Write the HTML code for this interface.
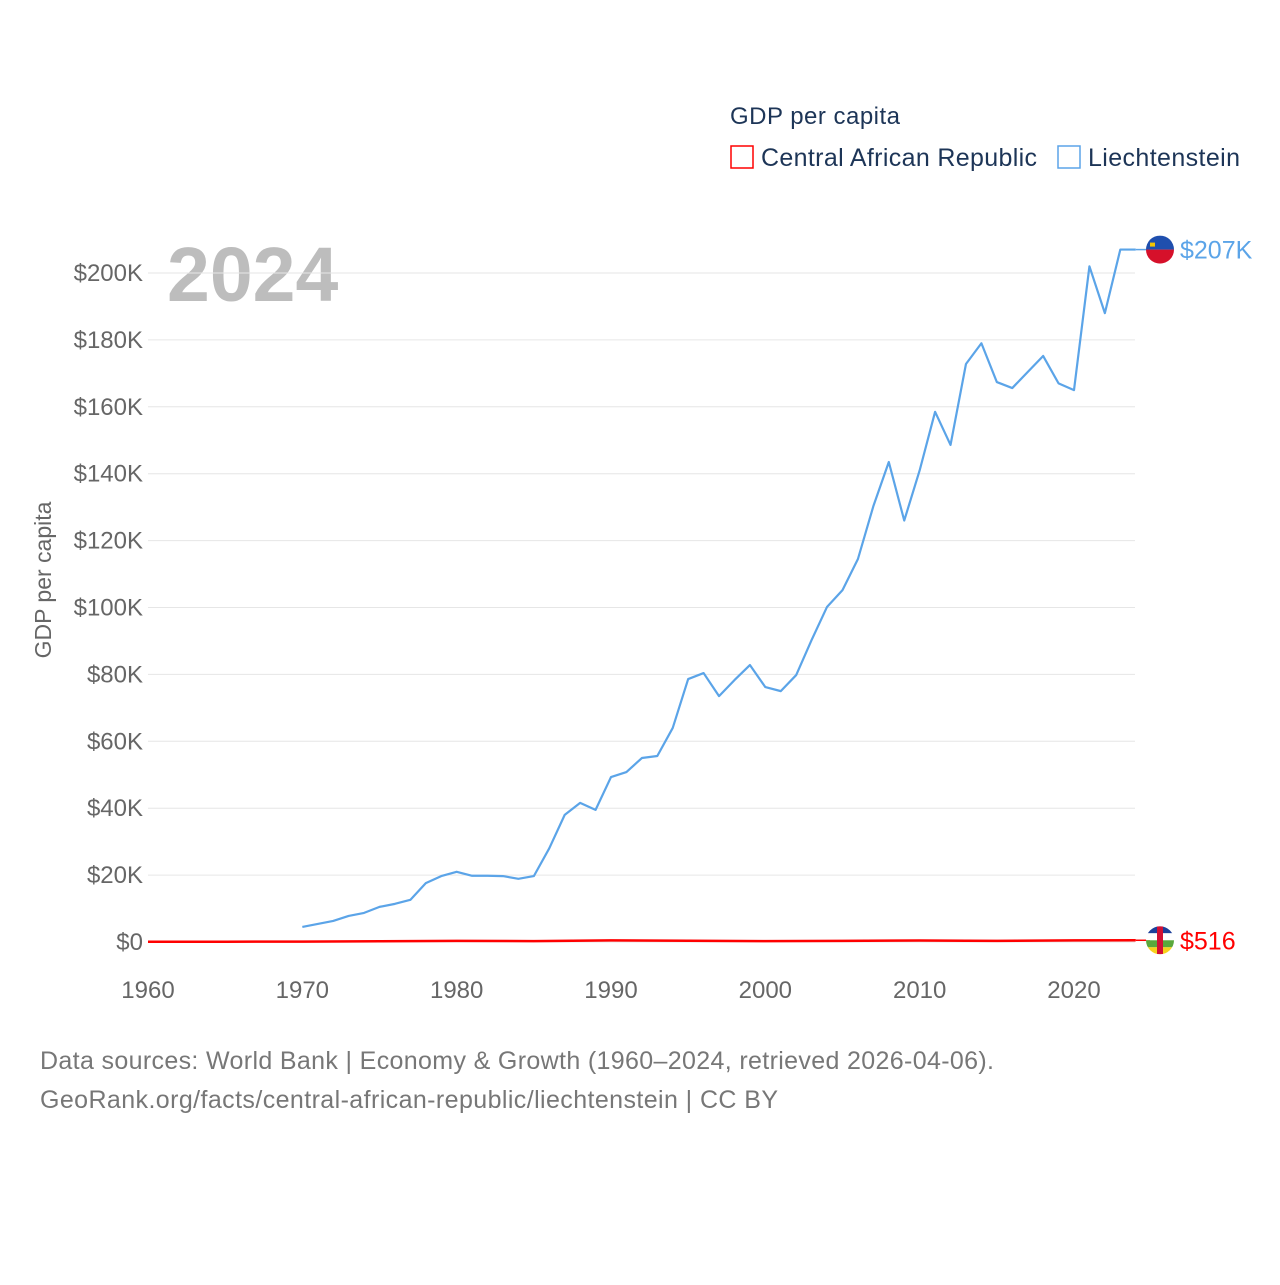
<!DOCTYPE html>
<html><head><meta charset="utf-8"><style>
body{margin:0;background:#fff;font-family:"Liberation Sans",sans-serif;}
svg text{font-family:"Liberation Sans",sans-serif;}
</style></head><body>
<svg width="1280" height="1280" viewBox="0 0 1280 1280">
<text x="730" y="124" font-size="24" fill="#1d3557" textLength="170">GDP per capita</text>
<g><rect x="731" y="146" width="22" height="22" fill="none" stroke="#ff0000" stroke-width="1.5"/><text x="761" y="166" font-size="25" fill="#1d3557" textLength="276">Central African Republic</text></g>
<g><rect x="1058" y="146" width="22" height="22" fill="none" stroke="#5ba4e8" stroke-width="1.5"/><text x="1088" y="166" font-size="25" fill="#1d3557" textLength="152">Liechtenstein</text></g>
<text x="167" y="301" font-size="77" font-weight="bold" fill="#bdbdbd">2024</text>
<text transform="translate(51,580) rotate(-90)" text-anchor="middle" font-size="23" fill="#666">GDP per capita</text>
<g id="grid"></g><g id="yt"></g><g id="xt"></g><g id="lines"></g><g id="ends"></g>
<text x="40" y="1069" font-size="25" fill="#777" textLength="954">Data sources: World Bank | Economy &amp; Growth (1960–2024, retrieved 2026-04-06).</text>
<text x="40" y="1108" font-size="25" fill="#777" textLength="738">GeoRank.org/facts/central-african-republic/liechtenstein | CC BY</text>
</svg>
<script>
const yTicks=[0,20000,40000,60000,80000,100000,120000,140000,160000,180000,200000];
const yTickLabels=["$0","$20K","$40K","$60K","$80K","$100K","$120K","$140K","$160K","$180K","$200K"];
const xTicks=[1960,1970,1980,1990,2000,2010,2020];
const liYears=[1970,1971,1972,1973,1974,1975,1976,1977,1978,1979,1980,1981,1982,1983,1984,1985,1986,1987,1988,1989,1990,1991,1992,1993,1994,1995,1996,1997,1998,1999,2000,2001,2002,2003,2004,2005,2006,2007,2008,2009,2010,2011,2012,2013,2014,2015,2016,2017,2018,2019,2020,2021,2022,2023,2024];
const liValues=[4500,5400,6300,7800,8700,10500,11400,12600,17600,19700,21000,19800,19800,19700,18900,19700,28000,38000,41600,39500,49300,50800,55000,55600,64000,78600,80400,73500,78300,82800,76200,75000,79800,90300,100200,105200,114500,130300,143500,126000,141000,158500,148600,172800,179000,167400,165600,170400,175200,167000,165000,202000,188000,207000,207000];
const carYears=[1960,1965,1970,1975,1980,1985,1990,1995,2000,2005,2010,2013,2015,2020,2024];
const carValues=[70,90,110,230,350,280,500,380,250,340,460,380,350,480,516];
const NS="http://www.w3.org/2000/svg";
const xS=y=>148+(y-1960)*(1074-148)/60;
const yS=v=>942-v*(942-273)/200000;
function mk(tag,attrs,parent,txt){const e=document.createElementNS(NS,tag);for(const k in attrs)e.setAttribute(k,attrs[k]);if(txt!=null)e.textContent=txt;document.getElementById(parent).appendChild(e);return e;}
yTicks.forEach((t,i)=>{
 const g=mk('line',{x1:148,x2:1135,y1:yS(t),y2:yS(t),stroke:'#e6e6e6','stroke-width':1},'grid');
 
 
 const l=mk('text',{x:143,y:yS(t)+8,'text-anchor':'end','font-size':24,fill:'#666'},'yt',yTickLabels[i]);
 
 
});
xTicks.forEach(t=>{
 const l=mk('text',{x:xS(t),y:998,'text-anchor':'middle','font-size':24,fill:'#666'},'xt',t);
 
 
});
const pts=(xs,vs)=>xs.map((y,i)=>xS(y)+','+yS(vs[i])).join(' ');
const li=mk('polyline',{points:pts(liYears,liValues),fill:'none',stroke:'#5ba4e8','stroke-width':2.2,'stroke-linejoin':'round'},'lines');


const car=mk('polyline',{points:pts(carYears,carValues),fill:'none',stroke:'#ff0000','stroke-width':2.5},'lines');


const liEnd=liValues[liValues.length-1], carEnd=carValues[carValues.length-1];
const ly=yS(liEnd), cy=yS(carEnd);
mk('line',{x1:xS(2024),x2:1150,y1:ly,y2:ly,stroke:'#5ba4e8','stroke-width':1.5},'ends');
mk('line',{x1:xS(2024),x2:1150,y1:cy,y2:cy,stroke:'#ff0000','stroke-width':1.5},'ends');
const f1=mk('g',{},'ends');


f1.innerHTML=`<clipPath id="c1"><circle cx="1160" cy="${ly}" r="14"/></clipPath><g clip-path="url(#c1)"><rect x="1146" y="${ly-14}" width="28" height="14" fill="#1f4fae"/><rect x="1146" y="${ly}" width="28" height="14" fill="#d6102a"/><rect x="1150" y="${ly-7}" width="5" height="4" fill="#f5c400"/></g>`;
const f2=mk('g',{},'ends');


f2.innerHTML=`<clipPath id="c2"><circle cx="1160" cy="${cy}" r="14"/></clipPath><g clip-path="url(#c2)"><rect x="1146" y="${cy-14}" width="28" height="7" fill="#1d3f9a"/><rect x="1146" y="${cy-7}" width="28" height="7" fill="#fff"/><rect x="1146" y="${cy}" width="28" height="7" fill="#5aa83c"/><rect x="1146" y="${cy+7}" width="28" height="7" fill="#f7d21b"/><rect x="1157" y="${cy-14}" width="6" height="28" fill="#d21034"/></g>`;
const t1=mk('text',{x:1180,y:ly+9,'font-size':25,fill:'#5ba4e8'},'ends','$'+Math.round(liEnd/1000)+'K');


const t2=mk('text',{x:1180,y:cy+9,'font-size':25,fill:'#ff0000'},'ends','$'+carEnd);


</script>
</body></html>
